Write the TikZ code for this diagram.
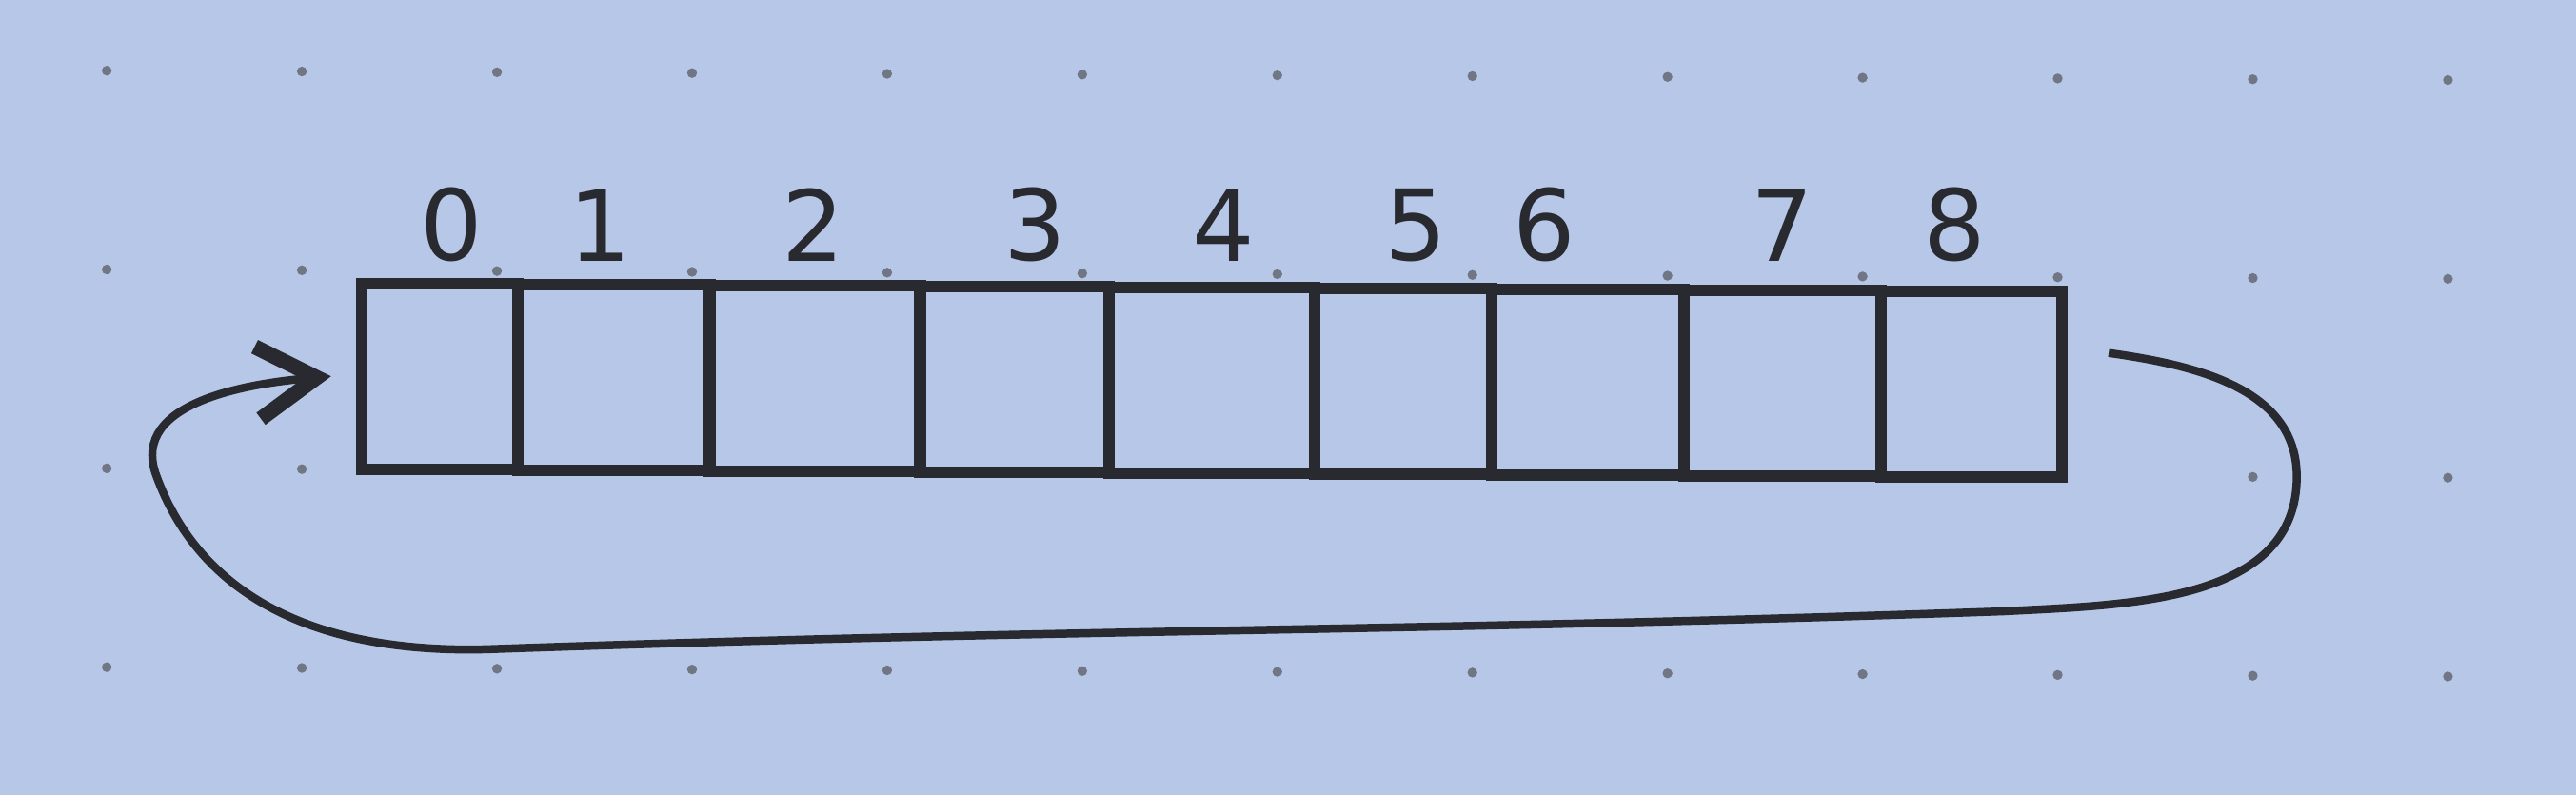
\documentclass[tikz,border=0pt]{standalone}
\usepackage{fontspec}
\usetikzlibrary{arrows.meta}
\usetikzlibrary{positioning}
\newfontfamily\handfont{DejaVu Sans}
\definecolor{paper}{RGB}{183,199,232}
\definecolor{ink}{RGB}{40,42,48}
\definecolor{dotgray}{RGB}{112,118,132}

\begin{document}
\begin{tikzpicture}[
    cell/.style={rectangle,draw=ink,line width=2pt,minimum height=1.13cm,inner sep=0pt},
    num/.style={anchor=south,inner sep=0pt,text=ink,font=\handfont\fontsize{17}{20}\selectfont},
    wrap/.style={draw=ink,line width=1.4pt,-{Straight Barb[length=3.6mm,width=4.4mm,line width=2.6pt]}}]
    \fill[paper] (0,0) rectangle (15.68,4.84);
    \useasboundingbox (0,0) rectangle (15.68,4.84);
    % dotted paper
    \foreach \j in {0,...,3}
      \foreach \k in {0,...,12}
        \fill[dotgray] ({0.65+1.1875*\k},{4.41-1.21*\j-0.00475*\k}) circle (0.03);

    \foreach \i/\x/\w/\lx in {0/2.675/0.95/2.75, 1/3.735/1.17/3.65, 2/4.96/1.28/4.95,
        3/6.175/1.15/6.30, 4/7.375/1.25/7.45, 5/8.54/1.08/8.62, 6/9.665/1.17/9.40,
        7/10.85/1.20/10.85, 8/12.00/1.10/11.90} {
      \node[cell,minimum width=\w cm] (c\i) at (\x,{2.55-0.006*\i}) {};
      \node[num] (n\i) at (\lx,3.24) {\i};
    }

    \coordinate (tail) at ([shift={(0.25,0.19)}]c8.east);
    \coordinate (head) at ([xshift=-1.5mm]c0.west);
    \draw[wrap] (tail) to[out=-8,in=90] (13.98,1.94) to[out=-90,in=3] (12.2,1.12)
      to[out=182,in=2] (3.0,0.89) to[out=182,in=-70] (0.95,1.95) to[out=110,in=185] (head);
  \end{tikzpicture}
\end{document}
